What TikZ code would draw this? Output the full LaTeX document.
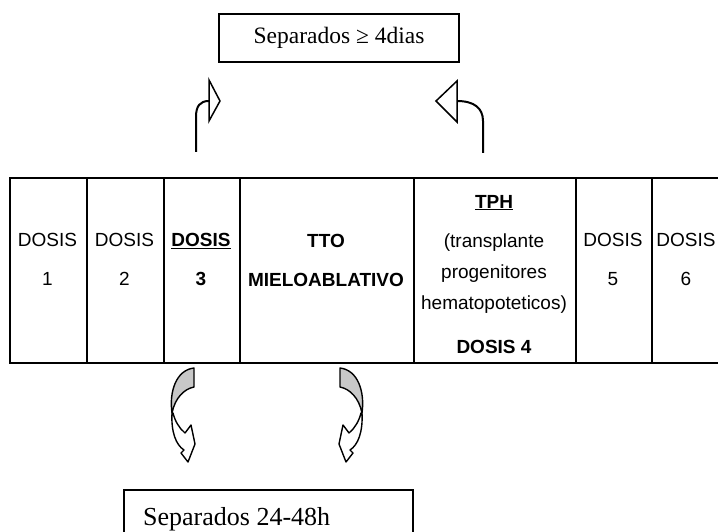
\documentclass[tikz,border=0pt]{standalone}
\usepackage{fontspec}
\setmainfont{Liberation Serif}
\setsansfont{Liberation Sans}
\definecolor{backgray}{RGB}{200, 200, 200}
\usepackage{tikz}
\usetikzlibrary{positioning, calc}

\tikzset{
  bentarrow/.pic={
    % back of the band (shaded)
    \draw[line width=1.4pt, fill=backgray, line join=round]
      (194,368) -- (194,387) .. controls (184,389) and (175,398) .. (172,413)
      .. controls (169,392) and (176,370) .. (194,368) -- cycle;
    % front of the band with the head
    \draw[line width=1.4pt, fill=white, line join=round]
      (172,413) .. controls (171,432) and (176,445) .. (184,450) -- (181,453)
      -- (188,462) -- (195,444) -- (191,425) -- (185,433)
      .. controls (179,428) and (175,421) .. (173,413) -- cycle;
  }
}

\begin{document}
\begin{tikzpicture}[
  x=1pt, y=-1pt,
  cellbox/.style={draw, line width=2pt, minimum height=185pt, inner sep=0pt, anchor=north west},
  celltext/.style={font=\sffamily\fontsize{19}{22}\selectfont, align=center, inner sep=0pt, anchor=north},
  notebox/.style={draw, line width=1.5pt, inner sep=0pt},
  shaft/.style={line width=2pt},
  headtri/.style={draw, fill=white, line width=1.5pt, line join=miter}
]
  \useasboundingbox (0,0) rectangle (718,532);
  \clip (0,0) rectangle (718,532);

  % time line of the doses
  \node[cellbox, minimum width=77pt] (c1) at (9,177) {};
  \node[cellbox, minimum width=77pt] (c2) at (86,177) {};
  \node[cellbox, minimum width=76pt] (c3) at (163,177) {};
  \node[cellbox, minimum width=174pt] (c4) at (239,177) {};
  \node[cellbox, minimum width=162pt] (c5) at (413,177) {};
  \node[cellbox, minimum width=76pt] (c6) at (575,177) {};
  \node[cellbox, minimum width=72pt] (c7) at (651,177) {};

  \node[celltext] (t1) at (47.5,233) {DOSIS\\[17pt]1};
  \node[celltext] (t2) at (124.5,233) {DOSIS\\[17pt]2};
  \node[celltext] (t3) at (201,233) {\textbf{\underline{DOSIS}}\\[17pt]\textbf{3}};
  \node[celltext] (t4) at (326,234) {\textbf{TTO}\\[17pt]\textbf{MIELOABLATIVO}};
  \node[celltext] (t5) at (494,195) {
    \textbf{\underline{TPH}}\\[17pt]
    (transplante\\[9pt]
    progenitores\\[9pt]
    hematopoteticos)\\[22pt]
    \textbf{DOSIS 4}
  };
  \node[celltext] (t6) at (613,233) {DOSIS\\[17pt]5};
  \node[celltext] (t7) at (686,233) {DOSIS\\[17pt]6};

  % upper note
  \node[notebox, minimum width=240pt, minimum height=48pt, font=\fontsize{23.5}{28}\selectfont]
    (sepdias) at (339,38) {Separados ≥ 4dias};

  \coordinate (lfoot) at (196,152);
  \coordinate (ltip) at (209,101);
  \coordinate (rfoot) at (483,153);
  \coordinate (rtip) at (457,101);
  \draw[shaft] (lfoot) -- (196,117) .. controls (196,106) and (200,101) .. (ltip);
  \draw[headtri] (209,80) -- (220,101) -- (209,121) -- cycle;
  \draw[shaft] (rfoot) -- (483,121) .. controls (483,108) and (474,101) .. (rtip);
  \draw[headtri] (457,81) -- (436,101) -- (457,122) -- cycle;

  % lower note
  \pic at (0,0) {bentarrow};
  \pic[xscale=-1] at (534,0) {bentarrow};

  \node[notebox, anchor=north west, minimum width=289pt, minimum height=70pt] (sephoras) at (123,489) {};
  \node[anchor=base west, inner sep=0pt, font=\fontsize{26}{30}\selectfont]
    (sephorastxt) at (143,525) {Separados 24-48h};
\end{tikzpicture}
\end{document}
